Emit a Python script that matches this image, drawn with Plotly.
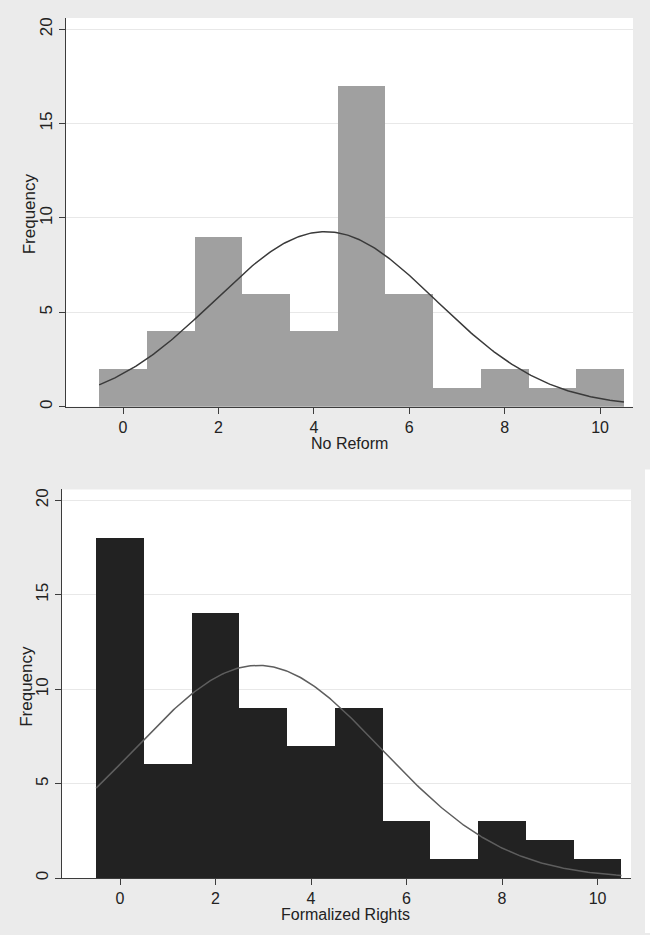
import numpy as np
import plotly.graph_objects as go

# ---- data ----
bins = [0, 1, 2, 3, 4, 5, 6, 7, 8, 9, 10]
no_reform_counts = [2, 4, 9, 6, 4, 17, 6, 1, 2, 1, 2]
formalized_counts = [18, 6, 14, 9, 7, 9, 3, 1, 3, 2, 1]
x_ticks = [0, 2, 4, 6, 8, 10]
y_ticks = [0, 5, 10, 15, 20]
x_titles = ["No Reform", "Formalized Rights"]


def normal_overlay(centers, counts):
    c = np.array(centers, float)
    n = np.array(counts, float)
    N = n.sum()
    mu = (c * n).sum() / N
    var = ((c - mu) ** 2 * n).sum() / (N - 1)
    sd = np.sqrt(var)
    xs = np.linspace(c.min() - 0.5, c.max() + 0.5, 300)
    ys = N / (sd * np.sqrt(2 * np.pi)) * np.exp(-(xs - mu) ** 2 / (2 * var))
    return xs, ys


W, H = 650, 935
BG = "#ebebeb"
FONT = "Liberation Sans, Arial, sans-serif"
FSX = 16
FSY = 17

fig = go.Figure()

panels = [
    dict(counts=no_reform_counts, bar="#a0a0a0", curve="#3a3a3a",
         px=(66, 633), py=(17, 407), xr=(-1.195, 10.69), yr=(0, 20.6),
         xa="x", ya="y", title_xy=(349, 443.5), ytitle_xy=(29, 213)),
    dict(counts=formalized_counts, bar="#222222", curve="#5e5e5e",
         px=(62, 631), py=(490, 880), xr=(-1.215, 10.70), yr=(0, 20.58),
         xa="x2", ya="y2", title_xy=(346, 916.5), ytitle_xy=(27, 688)),
]

annotations = []
for i, p in enumerate(panels):
    fig.add_trace(go.Bar(x=bins, y=p["counts"], width=1.0,
                         marker=dict(color=p["bar"], line=dict(width=0)),
                         xaxis=p["xa"], yaxis=p["ya"], showlegend=False))
    xs, ys = normal_overlay(bins, p["counts"])
    fig.add_trace(go.Scatter(x=xs, y=ys, mode="lines",
                             line=dict(color=p["curve"], width=1.5),
                             xaxis=p["xa"], yaxis=p["ya"], showlegend=False))
    suffix = "" if i == 0 else "2"
    xd = [p["px"][0] / W, p["px"][1] / W]
    yd = [1 - p["py"][1] / H, 1 - p["py"][0] / H]
    common = dict(showline=True, linecolor="#3c3c3c", linewidth=1,
                  ticks="outside", ticklen=6, tickcolor="#3c3c3c", tickwidth=1,
                  zeroline=False, fixedrange=True)
    fig.update_layout(**{
        "xaxis" + suffix: dict(domain=xd, range=list(p["xr"]), tickvals=x_ticks,
                               showgrid=False, anchor="y" + suffix,
                               tickfont=dict(family=FONT, size=FSX, color="#222222"),
                               **common),
        "yaxis" + suffix: dict(domain=yd, range=list(p["yr"]), tickvals=y_ticks,
                               showgrid=True, gridcolor="#e8e8e8", gridwidth=1,
                               tickangle=-90, anchor="x" + suffix,
                               tickfont=dict(family=FONT, size=FSY, color="#222222"),
                               **common),
    })
    fig.add_shape(type="rect", xref="paper", yref="paper", x0=xd[0], x1=xd[1],
                  y0=yd[0], y1=yd[1], fillcolor="white", line=dict(width=0),
                  layer="below")
    annotations.append(dict(text=x_titles[i], xref="paper", yref="paper",
                            x=p["title_xy"][0] / W, y=1 - p["title_xy"][1] / H,
                            showarrow=False, xanchor="center", yanchor="middle",
                            font=dict(family=FONT, size=FSX, color="#222222")))
    annotations.append(dict(text="Frequency", xref="paper", yref="paper",
                            x=p["ytitle_xy"][0] / W, y=1 - p["ytitle_xy"][1] / H,
                            showarrow=False, xanchor="center", yanchor="middle",
                            textangle=-90,
                            font=dict(family=FONT, size=FSY, color="#222222")))

# white seam on the right edge of the lower panel
fig.add_shape(type="rect", xref="paper", yref="paper", x0=645 / W, x1=1,
              y0=0, y1=1 - 470 / H, fillcolor="white", line=dict(width=0),
              layer="below")

fig.update_layout(width=W, height=H, margin=dict(l=0, r=0, t=0, b=0),
                  paper_bgcolor=BG, plot_bgcolor="rgba(0,0,0,0)",
                  bargap=0, annotations=annotations, showlegend=False)

fig.write_html("out.html", config={"displayModeBar": False},
               post_script="document.body.style.margin='0';"
                           "document.body.style.overflow='hidden';")
